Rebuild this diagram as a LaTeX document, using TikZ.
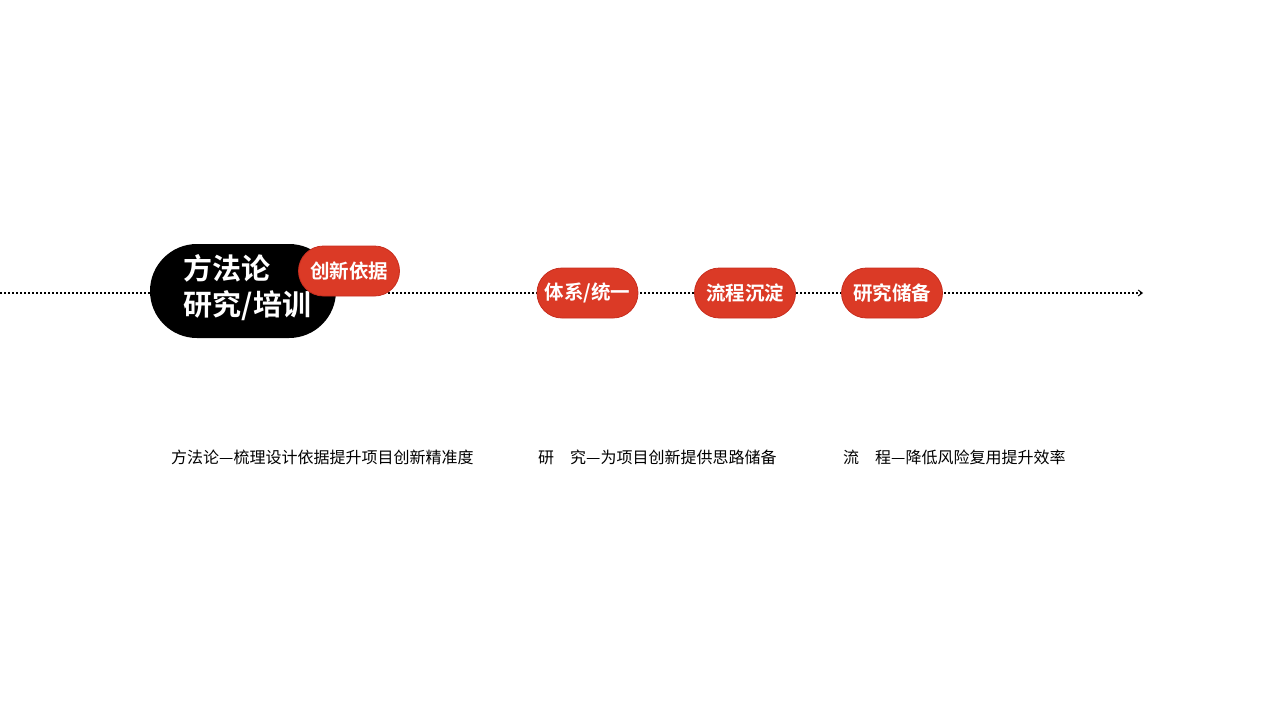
\documentclass[tikz,border=0pt]{standalone}
\usepackage{fontspec}
\setmainfont{Noto Sans CJK SC}
\newfontfamily\cjkb{Noto Sans CJK SC Bold}
\usetikzlibrary{arrows.meta}
\definecolor{pillred}{RGB}{219,58,38}
\definecolor{pillredborder}{RGB}{200,45,30}
\tikzset{
  redpill/.style={fill=pillred, draw=pillredborder, line width=0.8pt, minimum width=101pt, minimum height=50pt, rounded corners=25pt, inner sep=0pt, text=white, font=\cjkb\fontsize{19.5}{19.5}\selectfont},
  blackpill/.style={fill=black, minimum width=186pt, minimum height=94pt, rounded corners=47pt, inner sep=0pt},
  bigtext/.style={text=white, align=left, inner sep=0pt, font=\cjkb\fontsize{29}{36}\selectfont},
  caption/.style={anchor=west, inner sep=0pt, font=\fontsize{16}{16}\selectfont, text=black},
  timeline/.style={line width=1.5pt, dash pattern=on 2pt off 2pt, -{Straight Barb[length=4pt,width=6pt,line width=1pt]}}
}
\begin{document}
\begin{tikzpicture}[x=1pt,y=-1pt]
\useasboundingbox (0,0) rectangle (1280,720);
\coordinate (start) at (0,293);
\coordinate (end) at (1143,293);
\draw[timeline] (start) -- (end);
\node[blackpill] (method) at (243,291) {};
\node[bigtext] (methodtext) at (247.5,288) {方法论\\研究/培训};
\node[redpill] (basis) at (349,271) {创新依据};
\node[redpill] (system) at (587.5,293) {体系/统一};
\node[redpill] (flow) at (745,293) {流程沉淀};
\node[redpill] (reserve) at (892,293) {研究储备};
\node[caption] (cap1) at (171,457) {方法论—梳理设计依据提升项目创新精准度};
\node[caption] (cap2) at (538,457) {研\hspace{1em}究—为项目创新提供思路储备};
\node[caption] (cap3) at (843,457) {流\hspace{1em}程—降低风险复用提升效率};
\end{tikzpicture}
\end{document}
